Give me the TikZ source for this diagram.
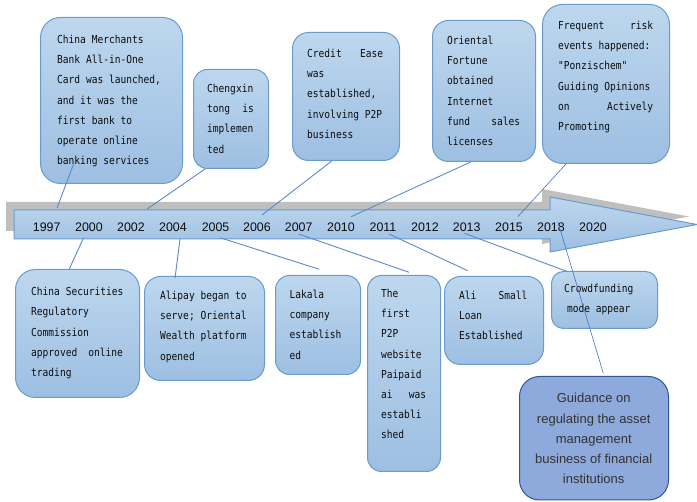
\documentclass[tikz,border=0pt]{standalone}
\usepackage{fontspec}
\setmainfont{Liberation Sans}
\newfontfamily\boxfont[FakeStretch=0.87]{DejaVu Sans Mono}
\usetikzlibrary{calc}
\definecolor{boxtop}{HTML}{BDD7EE}
\definecolor{boxbot}{HTML}{9DBFE2}
\definecolor{boxline}{HTML}{6C9BCB}
\definecolor{guidefill}{HTML}{8EA9DB}
\definecolor{guideline}{HTML}{2F5597}
\definecolor{shadowgray}{HTML}{BFBFBF}
\definecolor{conn}{HTML}{5B8BC7}
\definecolor{conndark}{HTML}{4472C4}
\definecolor{txt}{HTML}{0D0D0D}
\definecolor{guidetxt}{HTML}{333333}
\newcommand{\evlines}[1]{\parbox[t]{130pt}{\raggedright #1}}
\newcommand{\jline}[2]{\makebox[#1][l]{#2}}
\tikzset{
 evbox/.style={draw=boxline, line width=1pt, top color=boxtop, bottom color=boxbot, inner sep=0pt, anchor=north west},
 evtext/.style={anchor=base west, inner sep=0pt, font=\boxfont\fontsize{11}{20.2}\selectfont, text=txt},
 yearlbl/.style={anchor=base, inner sep=0pt, font=\fontsize{12.4}{14}\selectfont, text=txt},
 link/.style={draw=conn, line width=0.9pt},
 linkthin/.style={draw=conndark, line width=0.6pt},
}
\begin{document}
\begin{tikzpicture}[x=1pt,y=-1pt]
\useasboundingbox (0,0) rectangle (697,502);
% timeline arrow
\fill[shadowgray] (6,202) -- (542,202) -- (542,189) -- (689,216.5) -- (542,244) -- (542,231) -- (6,231) -- cycle;
\draw[boxline, line width=1pt, top color=boxtop, bottom color=boxbot]
  (14,210) -- (550,210) -- (550,197) -- (697,224.5) -- (550,252) -- (550,239) -- (14,239) -- cycle;
% years
\foreach \yr/\xx in {1997/46.7,2000/88.9,2002/131,2004/173,2005/215.6,2006/257,2007/298.7,2010/341,2011/383,2012/425,2013/466.7,2015/509,2018/551,2020/593}
  \node[yearlbl] (y\yr) at (\xx,231.2) {\yr};
% top boxes
\node[evbox, rounded corners=20pt, minimum width=142pt, minimum height=166pt] (A) at (40,17) {};
\node[evtext] (tA) at (57,43.5) {\evlines{China Merchants\\Bank All-in-One\\Card was launched,\\and it was the\\first bank to\\operate online\\banking services}};
\node[evbox, rounded corners=14pt, minimum width=75pt, minimum height=99pt] (B) at (193,69) {};
\node[evtext] (tB) at (207,92.5) {\evlines{Chengxin\\\jline{46.7pt}{tong\hfill is}\\implemen\\ted}};
\node[evbox, rounded corners=16pt, minimum width=107pt, minimum height=128pt] (C) at (292,32) {};
\node[evtext] (tC) at (307,57.5) {\evlines{\jline{76pt}{Credit\hfill Ease}\\was\\established,\\involving P2P\\business}};
\node[evbox, rounded corners=16pt, minimum width=103pt, minimum height=141pt] (D) at (432,20) {};
\node[evtext] (tD) at (447,44.5) {\evlines{Oriental\\Fortune\\obtained\\Internet\\\jline{73pt}{fund\hfill sales}\\licenses}};
\node[evbox, rounded corners=20pt, minimum width=127pt, minimum height=159pt] (E) at (542,4) {};
\node[evtext] (tE) at (558,29.5) {\evlines{\jline{95pt}{Frequent\hfill risk}\\events happened:\\"Ponzischem"\\Guiding Opinions\\\jline{95pt}{on\hfill Actively}\\Promoting}};
% bottom boxes
\node[evbox, rounded corners=20pt, minimum width=124pt, minimum height=128pt] (F) at (15,269) {};
\node[evtext] (tF) at (31,295.8) {\evlines{China Securities\\Regulatory\\Commission\\\jline{91.7pt}{approved\hfill online}\\trading}};
\node[evbox, rounded corners=16pt, minimum width=120pt, minimum height=104pt] (G) at (144,276) {};
\node[evtext] (tG) at (160,299.5) {\evlines{Alipay began to\\serve; Oriental\\Wealth platform\\opened}};
\node[evbox, rounded corners=14pt, minimum width=85pt, minimum height=99pt] (J) at (275,275) {};
\node[evtext] (tJ) at (289.3,298.5) {\evlines{Lakala\\company\\establish\\ed}};
\node[evbox, rounded corners=14pt, minimum width=73pt, minimum height=196pt] (H) at (367,275) {};
\node[evtext] (tH) at (381,297.5) {\evlines{The\\first\\P2P\\website\\Paipaid\\\jline{45pt}{ai\hfill was}\\establi\\shed}};
\node[evbox, rounded corners=16pt, minimum width=99pt, minimum height=88pt] (I) at (444,276) {};
\node[evtext] (tI) at (459,299.5) {\evlines{\jline{68.3pt}{Ali\hfill Small}\\Loan\\Established}};
\node[evbox, rounded corners=12pt, minimum width=106pt, minimum height=57pt] (K) at (551,271) {};
\node[evtext, anchor=base] (tK) at (598.8,292.8) {\parbox[t]{100pt}{\centering Crowdfunding\\mode appear}};
\node[draw=guideline, line width=1pt, fill=guidefill, rounded corners=20pt, inner sep=0pt, anchor=north west, minimum width=149pt, minimum height=123.5pt] (L) at (519,376) {};
\node[anchor=base, inner sep=0pt, text=guidetxt, font=\fontsize{13}{20.2}\selectfont] (tL) at (593.7,403) {\parbox[t]{150pt}{\centering Guidance on\\regulating the asset\\management\\business of financial\\institutions}};
% connector ends on the timeline
\coordinate (e1997) at (57,208);
\coordinate (e2002) at (146.7,209.3);
\coordinate (e2006) at (262,215);
\coordinate (e2010) at (351,216.7);
\coordinate (e2015) at (517.8,216.7);
\coordinate (e2000) at (83.6,237.7);
\coordinate (e2004) at (180,239);
\coordinate (e2005) at (220,237.7);
\coordinate (e2007) at (298.7,234);
\coordinate (e2011) at (389,234);
\coordinate (e2013) at (464.4,233.3);
\coordinate (e2018) at (557.8,221.7);
% connectors
\draw[link] ([xshift=34pt,yshift=21pt]A.south west) -- (e1997);
\draw[link] ([xshift=12pt]B.south west) -- (e2002);
\draw[link] ([xshift=39.7pt]C.south west) -- (e2006);
\draw[link] ([xshift=38.7pt]D.south west) -- (e2010);
\draw[linkthin] ([xshift=24pt]E.south west) -- (e2015);
\draw[link] (e2000) -- ([xshift=54.3pt]F.north west);
\draw[link] (e2004) -- ([xshift=31pt,yshift=-2.3pt]G.north west);
\draw[link] (e2005) -- ([xshift=44.3pt,yshift=5.7pt]J.north west);
\draw[link] (e2007) -- ([xshift=42pt,yshift=2.7pt]H.north west);
\draw[link] (e2011) -- ([xshift=23.7pt,yshift=5.3pt]I.north west);
\draw[link] (e2013) -- ([xshift=16.7pt,yshift=-0.7pt]K.north west);
\draw[linkthin] (e2018) -- ([xshift=84.3pt,yshift=2.7pt]L.north west);
\end{tikzpicture}
\end{document}
